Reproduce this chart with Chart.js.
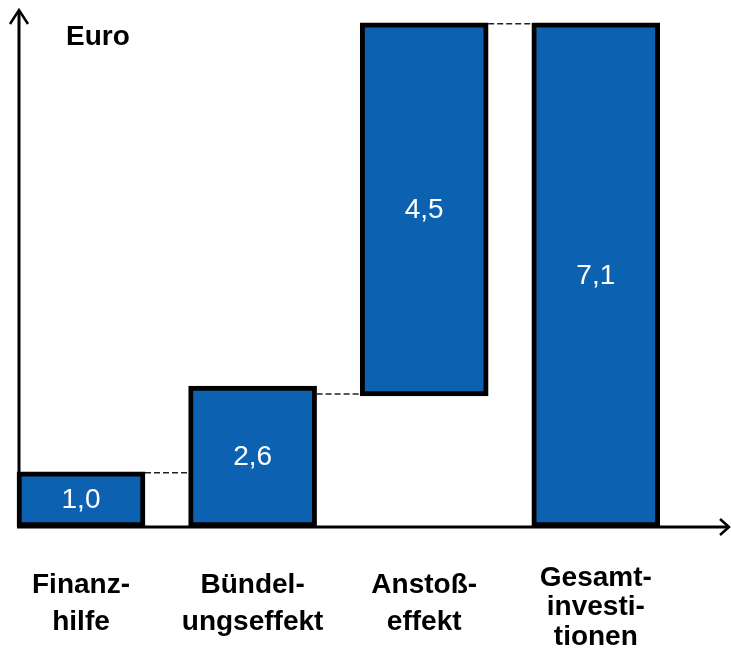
<!DOCTYPE html>
<html>
<head>
<meta charset="utf-8">
<script src="https://cdn.jsdelivr.net/npm/chart.js@4/dist/chart.umd.min.js"></script>
<style>
  body { margin: 0; background: #fff; }
  canvas { display: block; }
</style>
</head>
<body>
<canvas id="chart" width="731" height="656"></canvas>
<script>
// categories (one entry per line of the axis label)
const categories = [
  ["Finanz-", "hilfe"],
  ["Bündel-", "ungseffekt"],
  ["Anstoß-", "effekt"],
  ["Gesamt-", "investi-", "tionen"]
];
// bar extents as drawn (schematic, no scale printed)
const barStarts = [0, 0, 1.85, 0];
const barEnds = [0.78, 1.99, 7.12, 7.12];
// numbers printed in the bars
const valueLabels = ["1,0", "2,6", "4,5", "7,1"];
const axisTitle = "Euro";

const FONT = "'Liberation Sans', Arial, sans-serif";

const decor = {
  id: "decor",
  afterDatasetsDraw(chart) {
    const { ctx, chartArea: a } = chart;
    const bars = chart.getDatasetMeta(0).data;
    ctx.save();

    // dashed connectors between bars
    ctx.strokeStyle = "#222";
    ctx.lineWidth = 1.5;
    ctx.setLineDash([6, 3]);
    for (let i = 0; i < bars.length - 1; i++) {
      const cur = bars[i], next = bars[i + 1];
      const y = barStarts[i + 1] > 0 ? next.base - 2 : cur.y + 1;
      ctx.beginPath();
      ctx.moveTo(cur.x + cur.width / 2, y);
      ctx.lineTo(next.x - next.width / 2, y);
      ctx.stroke();
    }
    ctx.setLineDash([]);

    // axes with arrow heads
    ctx.strokeStyle = "#000";
    ctx.lineWidth = 3;
    ctx.beginPath();
    ctx.moveTo(a.left, a.bottom);
    ctx.lineTo(a.left, a.top + 1);
    ctx.moveTo(a.left - 2, a.bottom);
    ctx.lineTo(a.right + 1, a.bottom);
    ctx.stroke();
    ctx.lineWidth = 2.5;
    ctx.beginPath();
    ctx.moveTo(a.left - 9, a.top + 14);
    ctx.lineTo(a.left, a.top);
    ctx.lineTo(a.left + 9, a.top + 14);
    ctx.moveTo(a.right - 8, a.bottom - 8);
    ctx.lineTo(a.right + 1, a.bottom);
    ctx.lineTo(a.right - 8, a.bottom + 8);
    ctx.stroke();

    // values inside the bars
    ctx.fillStyle = "#fff";
    ctx.font = "28px " + FONT;
    ctx.textAlign = "center";
    ctx.textBaseline = "middle";
    bars.forEach((bar, i) => {
      ctx.fillText(valueLabels[i], bar.x, (bar.y + bar.base) / 2 + 1);
    });

    // axis title
    ctx.fillStyle = "#000";
    ctx.font = "bold 28px " + FONT;
    ctx.textAlign = "left";
    ctx.textBaseline = "alphabetic";
    ctx.fillText(axisTitle, a.left + 47, a.top + 35);
    ctx.restore();
  }
};

new Chart(document.getElementById("chart"), {
  type: "bar",
  data: {
    datasets: [{
      data: barEnds.map((end, i) => ({ x: i, y: [barStarts[i], end] })),
      backgroundColor: "#0C62B0",
      borderColor: "#000",
      borderWidth: 5,
      borderSkipped: false,
      barThickness: 128,
      clip: false
    }]
  },
  options: {
    responsive: false,
    animation: false,
    layout: { padding: { left: 19, top: 10, right: 3, bottom: 0 } },
    plugins: { legend: { display: false }, tooltip: { enabled: false } },
    scales: {
      x: {
        type: "linear",
        offset: false,
        min: -0.3613,
        max: 3.7704,
        grid: { display: false, drawTicks: false, offset: false },
        border: { display: false },
        afterBuildTicks: s => { s.ticks = categories.map((c, i) => ({ value: i })); },
        afterFit: s => { s.height = 129; s.paddingLeft = 0; s.paddingRight = 0; },
        ticks: {
          autoSkip: false,
          maxRotation: 0,
          minRotation: 0,
          padding: 51,
          crossAlign: "center",
          color: "#000",
          font: ctx => ({ family: FONT, size: 28, weight: "bold", lineHeight: ctx.index === 3 ? "29.5px" : "37px" }),
          callback: (value, index) => categories[index]
        }
      },
      y: {
        display: false,
        min: 0,
        max: 7.3
      }
    }
  },
  plugins: [decor]
});
</script>
</body>
</html>
